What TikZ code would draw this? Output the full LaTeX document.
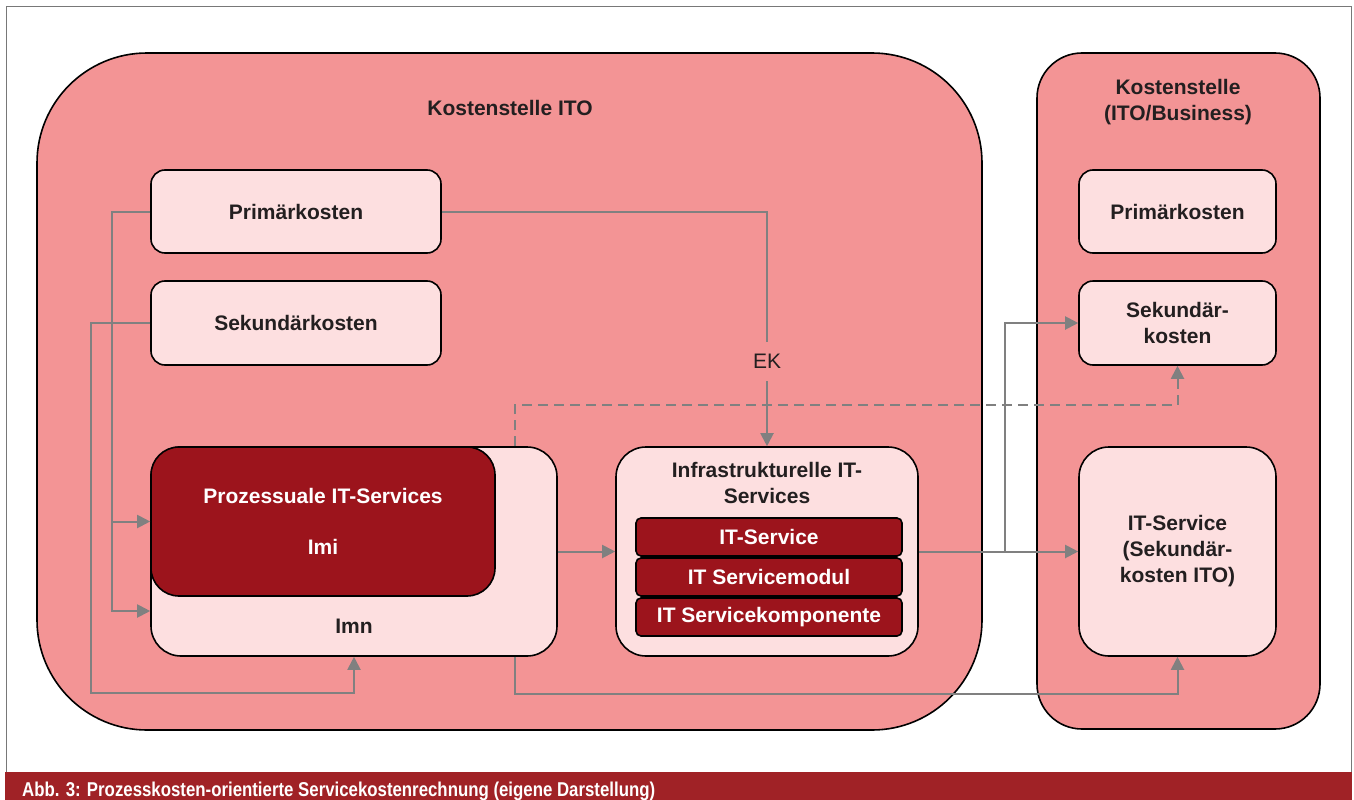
\documentclass[tikz,border=0pt]{standalone}
\usepackage{fontspec}
\usepackage{graphicx}
\setmainfont{Liberation Sans}
\usetikzlibrary{arrows.meta}

\definecolor{zonepink}{RGB}{243,148,149}
\definecolor{lightpink}{RGB}{253,223,224}
\definecolor{darkred}{RGB}{156,20,28}
\definecolor{barred}{RGB}{160,34,38}
\definecolor{txt}{RGB}{35,31,32}
\definecolor{linkgray}{RGB}{128,128,128}
\definecolor{framegray}{RGB}{120,120,120}

\begin{document}
\begin{tikzpicture}[x=1pt,y=-1pt,
  every node/.style={font=\bfseries\fontsize{21}{26}\selectfont, text=txt, align=center, inner sep=0pt},
  zone/.style={draw=black, line width=1.6pt, fill=zonepink},
  lbox/.style={draw=black, line width=1.6pt, fill=lightpink, rounded corners=14pt},
  bigbox/.style={lbox, rounded corners=30pt},
  dbox/.style={draw=black, line width=1.6pt, fill=darkred, text=white},
  link/.style={draw=linkgray, line width=2pt, -{Triangle[length=13pt,width=13pt]}},
  dashlink/.style={link, dash pattern=on 10pt off 6pt}
]
\useasboundingbox (0,0) rectangle (1354,800);

% frame and caption bar
\draw[framegray, line width=1pt] (6,7) rectangle (1351,772);
\fill[barred] (5,772) rectangle (1352,800);
\node[anchor=base west, text=white, font=\bfseries\fontsize{20}{22}\selectfont] (caption) at (22,796)
  {\resizebox{633pt}{\height}{Abb. 3: Prozesskosten-orientierte Servicekostenrechnung (eigene Darstellung)}};

% cost centres
\draw[zone, rounded corners=110pt] (37,53) rectangle (982,730);
\draw[zone, rounded corners=45pt] (1037,53) rectangle (1320,729);
\node (titleITO) at (510,108) {Kostenstelle ITO};
\node (titleBus) at (1178,102) {Kostenstelle\\(ITO/Business)};

% left cost centre
\node[lbox, minimum width=290pt, minimum height=83pt] (prim) at (296,211.5) {Primärkosten};
\node[lbox, minimum width=290pt, minimum height=84pt] (sek) at (296,323) {Sekundärkosten};
\node[bigbox, minimum width=406pt, minimum height=209pt] (imn) at (354,551.5) {};
\node (imnlabel) at (354,626) {Imn};
\node[dbox, rounded corners=28pt, minimum width=344pt, minimum height=149pt] (proz) at (323,521.5)
  {Prozessuale IT-Services\\[25pt]Imi};

\node[bigbox, minimum width=302pt, minimum height=209pt] (infra) at (767,551.5) {};
\node (infratitle) at (767,483) {Infrastrukturelle IT-\\Services};
\node[dbox, rounded corners=5pt, minimum width=266pt, minimum height=38pt] (svc) at (769,537) {IT-Service};
\node[dbox, rounded corners=5pt, minimum width=266pt, minimum height=38pt] (mod) at (769,577) {IT Servicemodul};
\node[dbox, rounded corners=5pt, minimum width=266pt, minimum height=38pt] (komp) at (769,617) {IT Servicekomponente};

% right cost centre
\node[lbox, minimum width=197pt, minimum height=83pt] (primR) at (1177.5,211.5) {Primärkosten};
\node[lbox, minimum width=197pt, minimum height=84pt] (sekR) at (1177.5,323) {Sekundär-\\kosten};
\node[bigbox, minimum width=197pt, minimum height=209pt] (itsR) at (1177.5,551.5) {IT-Service\\(Sekundär-\\kosten ITO)};

% junction points
\coordinate (jPrim) at (112,211.5);
\coordinate (jSek) at (91,693);
\coordinate (jOut) at (1005,551.5);

% connectors
\draw[link] (prim.west) -- (jPrim) |- ([yshift=-59.5pt]imn.west);
\draw[link] (jPrim |- proz.west) -- (proz.west);
\draw[link] (sek.west) -| (jSek) -| (imn.south);
\draw[link] (prim.east) -| (infra.north)
  node[pos=0.82, fill=zonepink, inner xsep=2pt, inner ysep=12pt, font=\fontsize{21}{26}\selectfont] (ek) {EK};
\draw[link] (imn.east) -- (infra.west);
\draw[link] (infra.east) -- (itsR.west);
\draw[link] (jOut) |- (sekR.west);
\draw[dashlink] ([xshift=161pt]imn.north) -- ++(0,-41) -| (sekR.south);
\draw[link] ([xshift=161pt]imn.south) -- ++(0,37) -| (itsR.south);
\end{tikzpicture}
\end{document}
